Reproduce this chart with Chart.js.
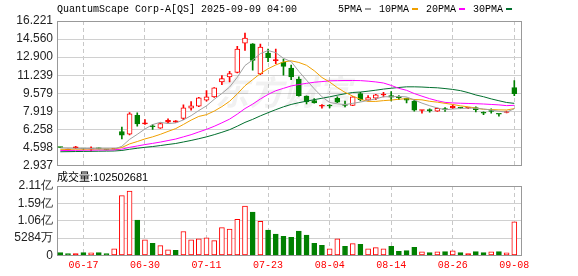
<!DOCTYPE html>
<html>
<head>
<meta charset="utf-8">
<script src="https://cdn.jsdelivr.net/npm/chart.js@4.4.0/dist/chart.umd.min.js"></script>
<style>
html, body { margin: 0; padding: 0; background: #fff; }
#wrap { position: relative; width: 578px; height: 276px; }
canvas { position: absolute; left: 0; top: 0; }
</style>
</head>
<body>
<div id="wrap">
  <canvas id="price" width="578" height="276"></canvas>
  <canvas id="vol" width="578" height="276"></canvas>
</div>
<script>
// trading days shown
var dates = ['06-12','06-13','06-16','06-17','06-18','06-20','06-23','06-24','06-25','06-26',
             '06-27','06-30','07-01','07-02','07-03','07-07','07-08','07-09','07-10','07-11',
             '07-14','07-15','07-16','07-17','07-18','07-21','07-22','07-23','07-24','07-25',
             '07-28','07-29','07-30','07-31','08-01','08-04','08-05','08-06','08-07','08-08',
             '08-11','08-12','08-13','08-14','08-15','08-18','08-19','08-20','08-21','08-22',
             '08-25','08-26','08-27','08-28','08-29','09-02','09-03','09-04','09-05','09-08'];
var tickDates = ['06-17','06-30','07-11','07-23','08-04','08-14','08-26','09-08'];

var open  = [4.60,4.36,4.55,4.47,4.44,4.50,4.40,4.42,6.06,5.82, 7.56,6.76,6.55,6.37,6.92,6.92,7.26,8.20,8.39,8.94,
             9.24,10.62,11.08,11.50,14.19,14.13,11.35,13.28,12.58,12.42, 11.90,10.89,9.33,8.91,8.38,8.44,9.12,8.48,8.45,9.55,
             8.94,9.12,9.42,9.36,9.20,9.12,8.85,7.99,8.00,7.93, 8.09,8.23,8.25,8.20,8.26,7.77,7.92,7.68,7.81,10.10];
var high  = [4.63,4.44,4.69,4.50,4.66,4.53,4.42,4.47,6.46,7.81, 7.78,7.16,6.71,6.85,7.22,7.06,8.51,8.81,9.20,9.82,
             10.10,11.20,11.60,13.89,15.11,14.15,14.10,13.64,13.64,12.73, 12.18,11.08,9.35,9.09,8.54,8.54,9.24,8.85,9.27,9.67,
             9.36,9.49,9.67,9.73,9.36,9.14,9.00,8.03,8.14,8.22, 8.27,8.51,8.27,8.28,8.32,7.87,8.14,7.69,7.93,10.74];
var low   = [4.57,4.33,4.48,4.42,4.25,4.45,4.36,4.40,5.39,5.75, 6.55,6.72,6.25,6.35,6.86,6.90,7.16,8.02,8.35,8.85,
             9.20,10.37,10.62,11.44,13.52,11.69,11.29,12.48,12.30,11.23, 10.83,9.30,8.60,8.67,8.20,8.22,8.72,8.33,8.43,8.88,
             8.88,9.00,9.24,8.88,9.00,8.69,7.93,7.75,7.84,7.90, 7.90,8.17,8.19,8.17,7.87,7.62,7.75,7.47,7.78,9.36];
var close = [4.59,4.42,4.57,4.45,4.46,4.47,4.38,4.45,5.73,7.68, 6.77,6.80,6.50,6.80,7.10,7.04,8.23,8.42,9.15,9.24,
             10.07,10.92,11.38,13.64,14.65,12.60,13.83,12.85,12.62,12.05, 11.08,9.36,8.78,8.69,8.40,8.41,8.75,8.45,9.24,9.00,
             9.18,9.43,9.45,9.21,9.18,8.94,8.02,8.01,7.98,8.20, 8.07,8.39,8.22,8.24,8.08,7.74,7.90,7.65,7.90,9.55];

var ma5  = [4.55,4.53,4.52,4.50,4.50,4.47,4.47,4.44,4.70,5.34, 5.80,6.29,6.70,6.91,6.79,6.85,7.13,7.52,7.99,8.42,
            9.02,9.56,10.15,11.05,12.13,12.64,13.22,13.51,13.31,12.79, 12.49,11.59,10.78,9.99,9.26,8.73,8.61,8.54,8.65,8.77,
            8.92,9.06,9.26,9.25,9.29,9.24,8.96,8.67,8.43,8.23, 8.06,8.13,8.17,8.22,8.20,8.13,8.04,7.92,7.85,8.15];
var ma10 = [4.42,4.42,4.44,4.44,4.45,4.46,4.45,4.46,4.59,4.92, 5.14,5.38,5.57,5.80,6.07,6.33,6.71,7.11,7.45,7.61,
            7.94,8.35,8.84,9.52,10.27,10.83,11.39,11.83,12.18,12.46, 12.56,12.41,12.15,11.65,11.03,10.61,10.10,9.66,9.32,9.02,
            8.83,8.83,8.90,8.95,9.03,9.08,9.01,8.97,8.84,8.76, 8.65,8.55,8.42,8.33,8.22,8.10,8.08,8.05,8.04,8.17];
var ma20 = [4.31,4.32,4.33,4.34,4.35,4.36,4.36,4.37,4.44,4.61, 4.73,4.86,4.97,5.09,5.23,5.37,5.57,5.77,6.02,6.26,
            6.54,6.86,7.20,7.66,8.17,8.58,9.05,9.47,9.81,10.03, 10.25,10.38,10.49,10.59,10.65,10.72,10.74,10.75,10.75,10.74,
            10.69,10.62,10.52,10.30,10.03,9.85,9.55,9.31,9.08,8.89, 8.74,8.69,8.66,8.64,8.62,8.59,8.55,8.51,8.44,8.47];
var ma30 = [4.20,4.21,4.22,4.23,4.24,4.25,4.26,4.27,4.32,4.43, 4.52,4.61,4.68,4.77,4.87,4.96,5.10,5.24,5.40,5.57,
            5.77,5.99,6.23,6.55,6.90,7.18,7.50,7.79,8.07,8.33, 8.55,8.71,8.85,8.99,9.12,9.25,9.40,9.53,9.65,9.69,
            9.77,9.86,9.96,10.04,10.11,10.17,10.17,10.15,10.11,10.08, 10.01,9.93,9.82,9.64,9.42,9.26,9.06,8.89,8.73,8.65];

// volume in millions of shares; u = up (hollow red), d = down (green), r = solid red
var volume  = [9.2,6,6,9,8,9,6,20,182,196, 108,48,37,30,17.5,15.4,73,48,51,54,
               45,85,80,110,150,132,104,77,65,58, 55,74,62,37,31,20.5,51,28,36,34,
               20.5,24,20.5,28,13,15,25,11,9,11, 12,14,9,6,12,9,11,12,8,102.502681];
var volKind = ['d','d','r','d','u','d','d','u','u','u', 'd','u','d','u','u','d','u','u','u','u',
               'u','u','u','u','u','d','u','d','d','d', 'd','d','d','d','d','u','u','d','u','d',
               'u','u','u','d','d','d','d','u','d','u', 'd','u','d','r','d','d','u','d','u','u'];

var priceTicks = [2.937,4.598,6.258,7.919,9.579,11.239,12.900,14.560,16.221];
var volTicks = [0,52.84,105.68,158.52,211.36];
var volTickLabels = ['0','5284万','1.06亿','1.59亿','2.11亿'];

var RED = '#ff0000', GREEN = '#008000';
var maColors = ['#a0a0a0', '#f0a000', '#ff00ff', '#006f2e'];
var maNames = ['5PMA', '10PMA', '20PMA', '30PMA'];

var tickIdx = tickDates.map(function (d) { return dates.indexOf(d); });

function isUp(i) { return close[i] >= open[i]; }

var frame = {
    id: 'frame',
    beforeDatasetsDraw: function (chart) {
        var a = chart.chartArea, c = chart.ctx;
        c.save();
        if (chart.canvas.id === 'price') {
            c.fillStyle = 'rgba(0,0,0,0.055)';
            c.font = 'italic bold 34px "Noto Sans CJK SC"';
            c.textBaseline = 'middle';
            c.fillText('东方财富', 215, 92);
        }
        c.strokeStyle = '#999';
        c.lineWidth = 1;
        c.strokeRect(Math.round(a.left) + 0.5, Math.round(a.top) + 0.5,
                     Math.round(a.right - a.left) - 1, Math.round(a.bottom - a.top) - 1);
        c.restore();
    }
};

var header = {
    id: 'header',
    afterDraw: function (chart) {
        var c = chart.ctx;
        c.save();
        c.textBaseline = 'middle';
        c.fillStyle = '#000';
        c.font = '10px "Liberation Mono"';
        c.fillText('QuantumScape Corp-A[QS] 2025-09-09 04:00', 57, 9);
        var x = 338;
        for (var k = 0; k < maNames.length; k++) {
            c.fillStyle = '#000';
            c.fillText(maNames[k], x, 9);
            x += c.measureText(maNames[k]).width + 3;
            c.fillStyle = maColors[k];
            c.fillRect(x, 8, 6, 2);
            x += 14;
        }
        c.fillStyle = '#000';
        c.font = '11px "Liberation Sans", "Noto Sans CJK SC"';
        c.fillText('成交量:' + Math.round(volume[volume.length - 1] * 1e6), 57, 178);
        c.restore();
    }
};

var xBase = {
    type: 'linear', min: -0.43, max: 60.0, offset: false,
    afterBuildTicks: function (s) { s.ticks = tickIdx.map(function (v) { return { value: v }; }); },
    grid: { color: '#c8c8c8', drawTicks: false, offset: false },
    border: { display: false, dash: [4, 3] }
};

var priceChart = new Chart(document.getElementById('price').getContext('2d'), {
    type: 'bar',
    data: {
        datasets: [
            { type: 'line', data: ma5.map(function (v, i) { return { x: i, y: v }; }), borderColor: maColors[0], borderWidth: 1, pointRadius: 0, order: 0 },
            { type: 'line', data: ma10.map(function (v, i) { return { x: i, y: v }; }), borderColor: maColors[1], borderWidth: 1, pointRadius: 0, order: 0 },
            { type: 'line', data: ma20.map(function (v, i) { return { x: i, y: v }; }), borderColor: maColors[2], borderWidth: 1, pointRadius: 0, order: 0 },
            { type: 'line', data: ma30.map(function (v, i) { return { x: i, y: v }; }), borderColor: maColors[3], borderWidth: 1, pointRadius: 0, order: 0 },
            {
                data: open.map(function (o, i) { return { x: i, y: [o, close[i]] }; }),
                barThickness: 5, minBarLength: 1, grouped: false, order: 1,
                borderWidth: 1, borderSkipped: false,
                borderColor: function (ctx) { return isUp(ctx.dataIndex) ? RED : GREEN; },
                backgroundColor: function (ctx) {
                    var i = ctx.dataIndex;
                    if (!isUp(i)) return GREEN;
                    return (close[i] - open[i]) > 0.2 ? '#fff' : RED;
                }
            },
            {
                data: low.map(function (l, i) { return { x: i, y: [l, high[i]] }; }),
                barThickness: 1, grouped: false, order: 2, borderWidth: 0,
                backgroundColor: function (ctx) { return isUp(ctx.dataIndex) ? RED : GREEN; }
            }
        ]
    },
    options: {
        responsive: false,
        animation: false,
        events: [],
        layout: { padding: { top: 21, right: 56, bottom: 110.5, left: 0 } },
        plugins: { legend: { display: false }, tooltip: { enabled: false } },
        scales: {
            x: Object.assign({}, xBase, {
                ticks: { display: false },
                afterFit: function (s) { s.height = 0; }
            }),
            y: {
                min: 2.937, max: 16.221,
                afterBuildTicks: function (s) { s.ticks = priceTicks.map(function (v) { return { value: v }; }); },
                ticks: {
                    autoSkip: false,
                    callback: function (v) { return v.toFixed(3); },
                    font: { family: 'Liberation Sans', size: 12 }, color: '#222', padding: 4
                },
                grid: { color: '#d0d0d0', drawTicks: false },
                border: { display: false },
                afterFit: function (s) { s.width = 57; }
            }
        }
    },
    plugins: [frame, header]
});

var volChart = new Chart(document.getElementById('vol').getContext('2d'), {
    type: 'bar',
    data: {
        datasets: [{
            data: volume.map(function (v, i) { return { x: i, y: v }; }),
            barThickness: 5, grouped: false, borderWidth: 1, borderSkipped: false,
            borderColor: function (ctx) { return volKind[ctx.dataIndex] === 'd' ? GREEN : RED; },
            backgroundColor: function (ctx) {
                var k = volKind[ctx.dataIndex];
                return k === 'u' ? '#fff' : (k === 'd' ? GREEN : RED);
            }
        }]
    },
    options: {
        responsive: false,
        animation: false,
        events: [],
        layout: { padding: { top: 186, right: 56, bottom: 0, left: 0 } },
        plugins: { legend: { display: false }, tooltip: { enabled: false } },
        scales: {
            x: Object.assign({}, xBase, {
                ticks: {
                    autoSkip: false, maxRotation: 0, padding: 4, color: RED,
                    font: { family: 'Liberation Mono', size: 10 },
                    callback: function (v) { return dates[v]; }
                },
                afterFit: function (s) { s.height = 20.5; }
            }),
            y: {
                min: 0, max: 211.36,
                afterBuildTicks: function (s) { s.ticks = volTicks.map(function (v) { return { value: v }; }); },
                ticks: {
                    autoSkip: false,
                    callback: function (v, idx) { return volTickLabels[idx]; },
                    font: { family: 'Liberation Sans', size: 12 }, color: '#222', padding: 4
                },
                grid: { color: '#d0d0d0', drawTicks: false },
                border: { display: false },
                afterFit: function (s) { s.width = 57; }
            }
        }
    },
    plugins: [frame]
});
</script>
</body>
</html>
